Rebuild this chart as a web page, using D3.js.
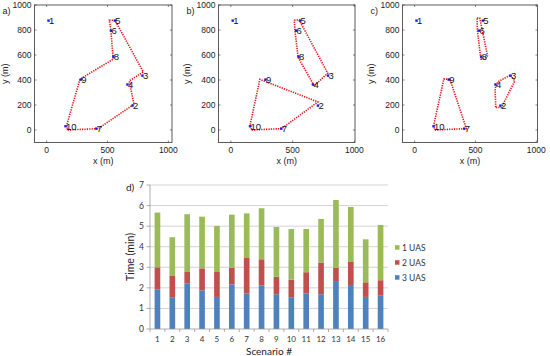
<!DOCTYPE html>
<html><head><meta charset="utf-8">
<script src="https://cdn.jsdelivr.net/npm/d3@7"></script>
<style>body{margin:0;background:#fff}svg{display:block}</style>
</head><body>
<svg id="c" width="550" height="356"></svg>
<script>
// ---------- scatter/route data ----------
const nodeIds = [1,2,3,4,5,6,7,8,9,10];
const nodeX = [15,705,787,664,560,528,408,548,280,155];
const nodeY = [875,195,435,364,875,795,11,587,403,30];
const xTicks = [0,500,1000];
const yTicks = [0,200,400,600,800,1000];
const routesA = [[[172,0],[424,11],[717,206],[679,393],[794,465],[561,878],[515,878],[528,794],[547,567],[274,407],[165,40],[172,0]]];
const routesB = [
  [[168,0],[411,11],[705,225],[235,405],[158,50],[168,0]],
  [[513,880],[553,880],[784,455],[675,353],[545,580],[519,794],[513,880]]
];
const routesC = [
  [[165,0],[425,11],[290,407],[240,407],[158,45],[165,0]],
  [[667,180],[714,180],[823,393],[788,439],[683,385],[661,331],[667,180]],
  [[513,896],[535,896],[599,594],[571,567],[544,567],[516,794],[513,896]]
];
// ---------- bar data ----------
const scenarios = ["1","2","3","4","5","6","7","8","9","10","11","12","13","14","15","16"];
const uas3 = [1.93,1.52,2.22,1.88,1.56,2.17,1.72,2.11,1.69,1.52,1.73,1.69,2.33,2.14,1.56,1.64];
const uas2 = [1.07,1.06,0.55,1.07,1.21,0.80,1.73,1.28,0.85,0.88,1.03,1.54,0.64,1.12,0.71,0.73];
const uas1 = [2.66,1.88,2.81,2.51,2.24,2.59,2.17,2.48,2.42,2.46,2.10,2.12,3.30,2.67,2.09,2.69];
const seriesNames = ["1 UAS","2 UAS","3 UAS"];
const seriesColors = {"1 UAS":"#9bbb59","2 UAS":"#c0504d","3 UAS":"#4f81bd"};
const timeTicks = [0,1,2,3,4,5,6,7];

const svg = d3.select("#c");
const sf = "Liberation Sans, Arial, sans-serif";

function panel(label, left, right, xdom, routes, ylabX){
  const top=5, bottom=142.5;
  const x = d3.scaleLinear().domain(xdom).range([left,right]);
  const y = d3.scaleLinear().domain([-100,1000]).range([bottom,top]);
  const g = svg.append("g");
  g.append("rect").attr("x",left).attr("y",top).attr("width",right-left).attr("height",bottom-top)
    .attr("fill","#fff").attr("stroke","#333").attr("stroke-width",0.8);
  xTicks.forEach(t=>{
    g.append("line").attr("x1",x(t)).attr("x2",x(t)).attr("y1",bottom).attr("y2",bottom-2).attr("stroke","#333").attr("stroke-width",0.6);
    g.append("line").attr("x1",x(t)).attr("x2",x(t)).attr("y1",top).attr("y2",top+2).attr("stroke","#333").attr("stroke-width",0.6);
    g.append("text").attr("x",x(t)).attr("y",bottom+10.5).attr("text-anchor","middle")
      .attr("font-family",sf).attr("font-size",8.5).attr("fill","#222").text(t);
  });
  yTicks.forEach(t=>{
    g.append("line").attr("x1",left).attr("x2",left+2).attr("y1",y(t)).attr("y2",y(t)).attr("stroke","#333").attr("stroke-width",0.6);
    g.append("line").attr("x1",right).attr("x2",right-2).attr("y1",y(t)).attr("y2",y(t)).attr("stroke","#333").attr("stroke-width",0.6);
    g.append("text").attr("x",left-3).attr("y",y(t)+3).attr("text-anchor","end")
      .attr("font-family",sf).attr("font-size",8.5).attr("fill","#222").text(t);
  });
  g.append("text").attr("x",(left+right)/2).attr("y",163.5).attr("text-anchor","middle")
    .attr("font-family",sf).attr("font-size",9).attr("fill","#222").text("x (m)");
  g.append("text").attr("transform",`translate(${ylabX},${(top+bottom)/2}) rotate(-90)`).attr("text-anchor","middle")
    .attr("font-family",sf).attr("font-size",9).attr("fill","#222").text("y (m)");
  g.append("text").attr("x",left-32).attr("y",14).attr("font-family",sf).attr("font-size",9)
    .attr("fill","#222").text(label);
  const line = d3.line().x(d=>x(d[0])).y(d=>y(d[1]));
  routes.forEach(r=>{
    g.append("path").attr("d",line(r)).attr("fill","none").attr("stroke","#e8141c")
      .attr("stroke-width",1.6).attr("stroke-dasharray","1.3,1.1");
  });
  nodeIds.forEach((id,i)=>{
    g.append("rect").attr("x",x(nodeX[i])-1.2).attr("y",y(nodeY[i])-1.2).attr("width",2.4).attr("height",2.4).attr("fill","#1a1aff");
    g.append("text").attr("x",x(nodeX[i])+0.5).attr("y",y(nodeY[i])+3.5)
      .attr("font-family",sf).attr("font-size",9.5).attr("fill","#111").text(id);
  });
}
panel("a)",34.5,172,[-100,1030],routesA,8);
panel("b)",218.5,355,[-100,1005],routesB,190);
panel("c)",402.5,537.5,[-100,1010],routesC,374);

// ---------- stacked bar chart ----------
const bf = "Lato, 'Open Sans', sans-serif";
const bx = d3.scaleBand().domain(scenarios).range([150,388]).paddingInner(0.62).paddingOuter(0.31);
const by = d3.scaleLinear().domain([0,7]).range([329,185]);
const bg = svg.append("g");
timeTicks.forEach(t=>{
  if(t>0) bg.append("line").attr("x1",150).attr("x2",388).attr("y1",by(t)).attr("y2",by(t)).attr("stroke","#c8c8c8").attr("stroke-width",0.8);
  bg.append("line").attr("x1",146.5).attr("x2",150).attr("y1",by(t)).attr("y2",by(t)).attr("stroke","#999").attr("stroke-width",0.8);
  bg.append("text").attr("x",144).attr("y",by(t)+3).attr("text-anchor","end").attr("font-family",bf)
    .attr("font-size",8.5).attr("fill","#333").text(t);
});
const rows = scenarios.map((s,i)=>({s, "3 UAS":uas3[i], "2 UAS":uas2[i], "1 UAS":uas1[i]}));
const stack = d3.stack().keys(["3 UAS","2 UAS","1 UAS"])(rows);
stack.forEach(layer=>{
  bg.selectAll(null).data(layer).enter().append("rect")
    .attr("x",d=>bx(d.data.s)).attr("width",bx.bandwidth())
    .attr("y",d=>by(d[1])).attr("height",d=>by(d[0])-by(d[1]))
    .attr("fill",seriesColors[layer.key]);
});
bg.append("line").attr("x1",150).attr("x2",150).attr("y1",185).attr("y2",329).attr("stroke","#999").attr("stroke-width",0.8);
bg.append("line").attr("x1",150).attr("x2",388).attr("y1",329).attr("y2",329).attr("stroke","#999").attr("stroke-width",0.8);
for(let i=0;i<=scenarios.length;i++){
  const xx = 150 + i*bx.step();
  bg.append("line").attr("x1",xx).attr("x2",xx).attr("y1",329).attr("y2",332).attr("stroke","#999").attr("stroke-width",0.8);
}
scenarios.forEach(s=>{
  bg.append("text").attr("x",bx(s)+bx.bandwidth()/2).attr("y",342).attr("text-anchor","middle")
    .attr("font-family",bf).attr("font-size",8).attr("fill","#333").text(s);
});
bg.append("text").attr("x",269).attr("y",354.5).attr("text-anchor","middle").attr("font-family",bf)
  .attr("font-size",10).attr("fill","#222").text("Scenario #");
bg.append("text").attr("transform","translate(134,257) rotate(-90)").attr("text-anchor","middle")
  .attr("font-family",bf).attr("font-size",10.5).attr("fill","#222").text("Time (min)");
bg.append("text").attr("x",126).attr("y",191).attr("font-family",bf).attr("font-size",10).attr("fill","#222").text("d)");
seriesNames.forEach((n,i)=>{
  const yy = 247.7 + i*15;
  bg.append("rect").attr("x",395).attr("y",yy-2.5).attr("width",4.5).attr("height",4.5).attr("fill",seriesColors[n]);
  bg.append("text").attr("x",402).attr("y",yy+3).attr("font-family",bf).attr("font-size",8.5).attr("fill","#333").text(n);
});
</script>
</body></html>
